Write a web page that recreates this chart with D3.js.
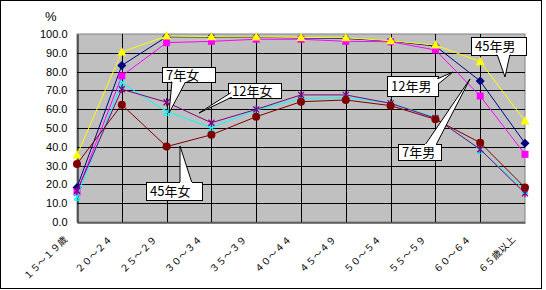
<!DOCTYPE html>
<html>
<head>
<meta charset="utf-8">
<script src="https://cdn.jsdelivr.net/npm/d3@7"></script>
<style>
  body { margin: 0; background: #fff; }
  text { font-family: "Liberation Sans", "Noto Sans CJK JP", sans-serif; }
</style>
</head>
<body>
<div id="chart"></div>
<script>
// categories (age groups)
var ages = ["１５～１９歳", "２０～２４", "２５～２９", "３０～３４", "３５～３９", "４０～４４",
    "４５～４９", "５０～５４", "５５～５９", "６０～６４", "６５歳以上"];

// series values (%)
var male45 = [35.6, 90.4, 98.9, 98.6, 98.4, 98.2, 98.0, 96.4, 94.1, 85.3, 53.7];
var male12 = [18.4, 83.3, 98.5, 98.4, 98.2, 97.9, 97.6, 96.2, 93.6, 75.0, 41.9];
var male7  = [15.8, 77.7, 95.4, 96.1, 97.2, 97.2, 96.1, 95.9, 91.5, 67.0, 36.0];
var fem45  = [30.9, 62.4, 40.1, 46.4, 56.0, 64.0, 64.9, 61.9, 54.6, 42.2, 18.3];
var fem7   = [13.5, 74.1, 58.7, 50.2, 59.6, 65.6, 66.2, 63.3, 55.6, 38.3, 17.0];
var fem12  = [16.6, 70.6, 63.7, 52.8, 59.9, 67.6, 67.6, 63.1, 55.2, 38.7, 15.3];

var yTicks = [0, 10, 20, 30, 40, 50, 60, 70, 80, 90, 100];

// drawn in this order (later on top)
var series = [
    {name: "12年男", values: male12, color: "#000080", marker: "diamond"},
    {name: "7年男",  values: male7,  color: "#ff00ff", marker: "square"},
    {name: "45年男", values: male45, color: "#ffff00", marker: "tri"},
    {name: "7年女",  values: fem7,   color: "#00ffff", marker: "xbar"},
    {name: "12年女", values: fem12,  color: "#800080", marker: "star"},
    {name: "45年女", values: fem45,  color: "#800000", marker: "circle"}
];

// callout boxes: box position and pointer tip
var callouts = [
    {text: "7年女",  box: [162, 67, 53, 15], base: [172, 186], tip: [169, 113]},
    {text: "12年女", box: [228, 83, 53, 15], base: [232, 248], tip: [199, 113], side: "left"},
    {text: "45年女", box: [146, 182, 56, 18], base: [180, 192], tip: [180, 146], side: "top"},
    {text: "45年男", box: [471, 37, 55, 18], base: [497, 510], tip: [505, 77]},
    {text: "12年男", box: [387, 76, 51, 20], base: [438, 438], tip: [453, 72], side: "right"},
    {text: "7年男",  box: [398, 144, 43, 16], base: [425, 436], tip: [470, 79], side: "top"}
];

var W = 546, H = 290;
var margin = {top: 34, left: 77},
    width = 448,
    height = 188;

var svg = d3.select("#chart")
    .append("svg")
    .attr("width", W)
    .attr("height", H);

// outer frame
svg.append("rect")
    .attr("x", 0.5).attr("y", 0.5)
    .attr("width", 541).attr("height", 288)
    .attr("fill", "#fff")
    .attr("stroke", "#000");

var g = svg.append("g")
    .attr("transform", `translate(${margin.left}, ${margin.top})`);

var x = d3.scalePoint()
    .domain(ages)
    .range([0, width]);

var y = d3.scaleLinear()
    .domain([0, 100])
    .range([height, 0]);

// plot area
g.append("rect")
    .attr("width", width)
    .attr("height", height)
    .attr("fill", "#c0c0c0")
    .attr("stroke", "#808080");

// grid lines
g.selectAll("line.hgrid")
    .data(yTicks.slice(1, -1))
    .enter().append("line")
    .attr("x1", 0).attr("x2", width)
    .attr("y1", d => Math.round(y(d)) + 0.5)
    .attr("y2", d => Math.round(y(d)) + 0.5)
    .attr("stroke", "#000");
g.selectAll("line.vgrid")
    .data(ages.slice(1, -1))
    .enter().append("line")
    .attr("y1", 0).attr("y2", height)
    .attr("x1", d => Math.round(x(d)) + 0.5)
    .attr("x2", d => Math.round(x(d)) + 0.5)
    .attr("stroke", "#000");

// Y axis
var yAxis = g.append("g")
    .attr("transform", "translate(0.5,0)")
    .call(d3.axisLeft(y).tickValues(yTicks).tickSize(0).tickPadding(10).tickFormat(d3.format(".1f")));
yAxis.select(".domain").attr("stroke", "#000");
yAxis.selectAll("text").style("font-size", "11px").style("font-family", "Liberation Sans").attr("fill", "#000");

// X axis
var xAxis = g.append("g")
    .attr("transform", `translate(0, ${height + 0.5})`)
    .call(d3.axisBottom(x).tickSize(0).tickFormat(""));
xAxis.select(".domain").attr("stroke", "#000");

g.selectAll("text.xlab")
    .data(ages)
    .enter().append("text")
    .attr("class", "xlab")
    .attr("text-anchor", "end")
    .attr("transform", d => `translate(${x(d) - 9}, ${height + 18}) rotate(-45)`)
    .style("font-family", "Noto Sans CJK JP")
    .style("font-size", "9.5px")
    .text(d => d);

// % label
svg.append("text")
    .attr("x", 45).attr("y", 21)
    .style("font-size", "13px")
    .text("%");

// lines
var line = d3.line()
    .x((d, i) => x(ages[i]))
    .y(d => y(d));

// markers
function marker(sel, s) {
    var c = s.color;
    if (s.marker === "tri") {
        sel.append("path").attr("d", "M0,-5L4.5,3.5L-4.5,3.5Z").attr("fill", c);
    } else if (s.marker === "square") {
        sel.append("rect").attr("x", -3.5).attr("y", -3.5).attr("width", 7).attr("height", 7).attr("fill", c);
    } else if (s.marker === "diamond") {
        sel.append("path").attr("d", "M0,-4.5L4.5,0L0,4.5L-4.5,0Z").attr("fill", c);
    } else if (s.marker === "circle") {
        sel.append("circle").attr("r", 4).attr("fill", c);
    } else if (s.marker === "xbar") {
        sel.append("path").attr("d", "M-3,-3L3,3M3,-3L-3,3M-3,3.5L3,3.5").attr("stroke", c).attr("stroke-width", 1.2);
    } else {
        sel.append("path").attr("d", "M-3,-3L3,3M3,-3L-3,3M0,-4L0,4").attr("stroke", c).attr("stroke-width", 1.2);
    }
}

series.forEach(s => {
    g.append("path")
        .datum(s.values)
        .attr("d", line)
        .attr("fill", "none")
        .attr("stroke", s.color)
        .attr("stroke-width", 1);
    var pts = g.selectAll(null)
        .data(s.values)
        .enter().append("g")
        .attr("transform", (d, i) => `translate(${x(ages[i])}, ${y(d)})`);
    pts.each(function() { marker(d3.select(this), s); });
});

// callouts
callouts.forEach(c => {
    var bx = c.box[0], by = c.box[1], bw = c.box[2], bh = c.box[3];
    var pts;
    if (c.side === "left") {
        pts = [[c.base[0], by + bh - 6], c.tip, [c.base[0], by + bh - 1]];
    } else if (c.side === "top") {
        pts = [[c.base[0], by + 1], c.tip, [c.base[1], by + 1]];
    } else if (c.side === "right") {
        pts = [[bx + bw - 1, by + 3], c.tip, [bx + bw - 1, by + 9]];
    } else {
        pts = [[c.base[0], by + bh - 1], c.tip, [c.base[1], by + bh - 1]];
    }
    svg.append("rect")
        .attr("x", bx + 0.5).attr("y", by + 0.5)
        .attr("width", bw).attr("height", bh)
        .attr("fill", "#fff")
        .attr("stroke", "#000");
    svg.append("path")
        .attr("d", "M" + pts.join("L"))
        .attr("fill", "#fff")
        .attr("stroke", "#000");
    svg.append("path")
        .attr("d", "M" + pts[0] + "L" + pts[2])
        .attr("stroke", "#fff")
        .attr("stroke-width", 2);
    svg.append("text")
        .attr("x", bx + 4).attr("y", by + bh / 2 + 5)
        .style("font-family", "Noto Sans CJK JP")
        .style("font-size", "13px")
        .text(c.text);
});
</script>
</body>
</html>
